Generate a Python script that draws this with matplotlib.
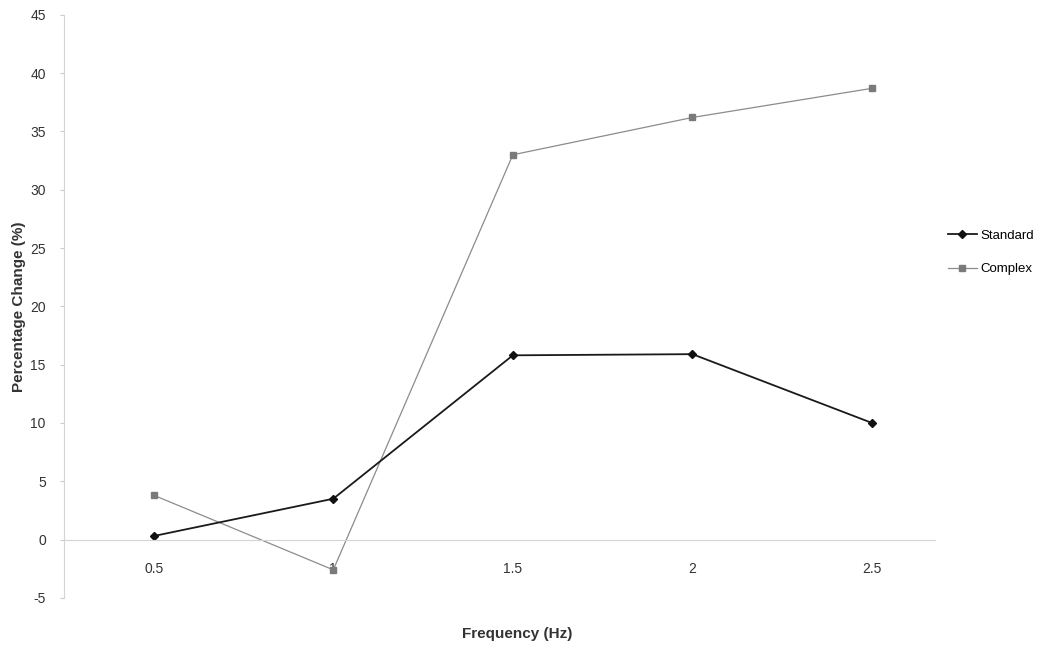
import matplotlib.pyplot as plt
import numpy as np

plt.rcParams["font.family"] = ["Liberation Sans", "DejaVu Sans"]
plt.rcParams["axes.unicode_minus"] = False

freq_labels = ['0.5', '1', '1.5', '2', '2.5']
standard = [0.3, 3.5, 15.8, 15.9, 10.0]
complex_ = [3.8, -2.6, 33.0, 36.2, 38.7]

fig = plt.figure(figsize=(10.48, 6.47), dpi=100)
ax = fig.add_axes([0.061, 0.076, 0.831, 0.901])

x = np.arange(len(freq_labels))
ax.plot(x, complex_, color='#8c8c8c', linewidth=0.9, marker='s', markersize=5,
        markerfacecolor='#7a7a7a', markeredgecolor='#7a7a7a', label='Complex')
ax.plot(x, standard, color='#1a1a1a', linewidth=1.3, marker='D', markersize=4.5,
        markerfacecolor='#111111', markeredgecolor='#111111', label='Standard')

ax.set_xlim(-0.5, 4.35)
ax.set_ylim(-5, 45)
ax.set_yticks(np.arange(-5, 50, 5))
ax.set_xticks(x)
ax.set_xticklabels(freq_labels)

# excel style: category axis crosses at 0
for s in ['top', 'right']:
    ax.spines[s].set_visible(False)
ax.spines['bottom'].set_position(('data', 0))
ax.spines['bottom'].set_color('#d4d4d4')
ax.spines['left'].set_color('#d4d4d4')
ax.tick_params(axis='x', length=0, pad=16, labelsize=10, labelcolor='#333333')
ax.tick_params(axis='y', length=3, color='#cccccc', labelsize=10, labelcolor='#333333', pad=10)

ax.set_xlabel('Frequency (Hz)', fontsize=11, fontweight='bold', color='#333333', labelpad=0)
ax.xaxis.set_label_coords(0.52, -0.05)
ax.set_ylabel('Percentage Change (%)', fontsize=11, fontweight='bold', color='#333333')
ax.yaxis.set_label_coords(-0.043, 0.5)

h, l = ax.get_legend_handles_labels()
fig.legend(h[::-1], l[::-1], loc='center left', bbox_to_anchor=(0.893, 0.61),
           frameon=False, fontsize=9.5, handlelength=2.2, labelspacing=1.6,
           handletextpad=0.3)

plt.savefig('out.png', dpi=100)
